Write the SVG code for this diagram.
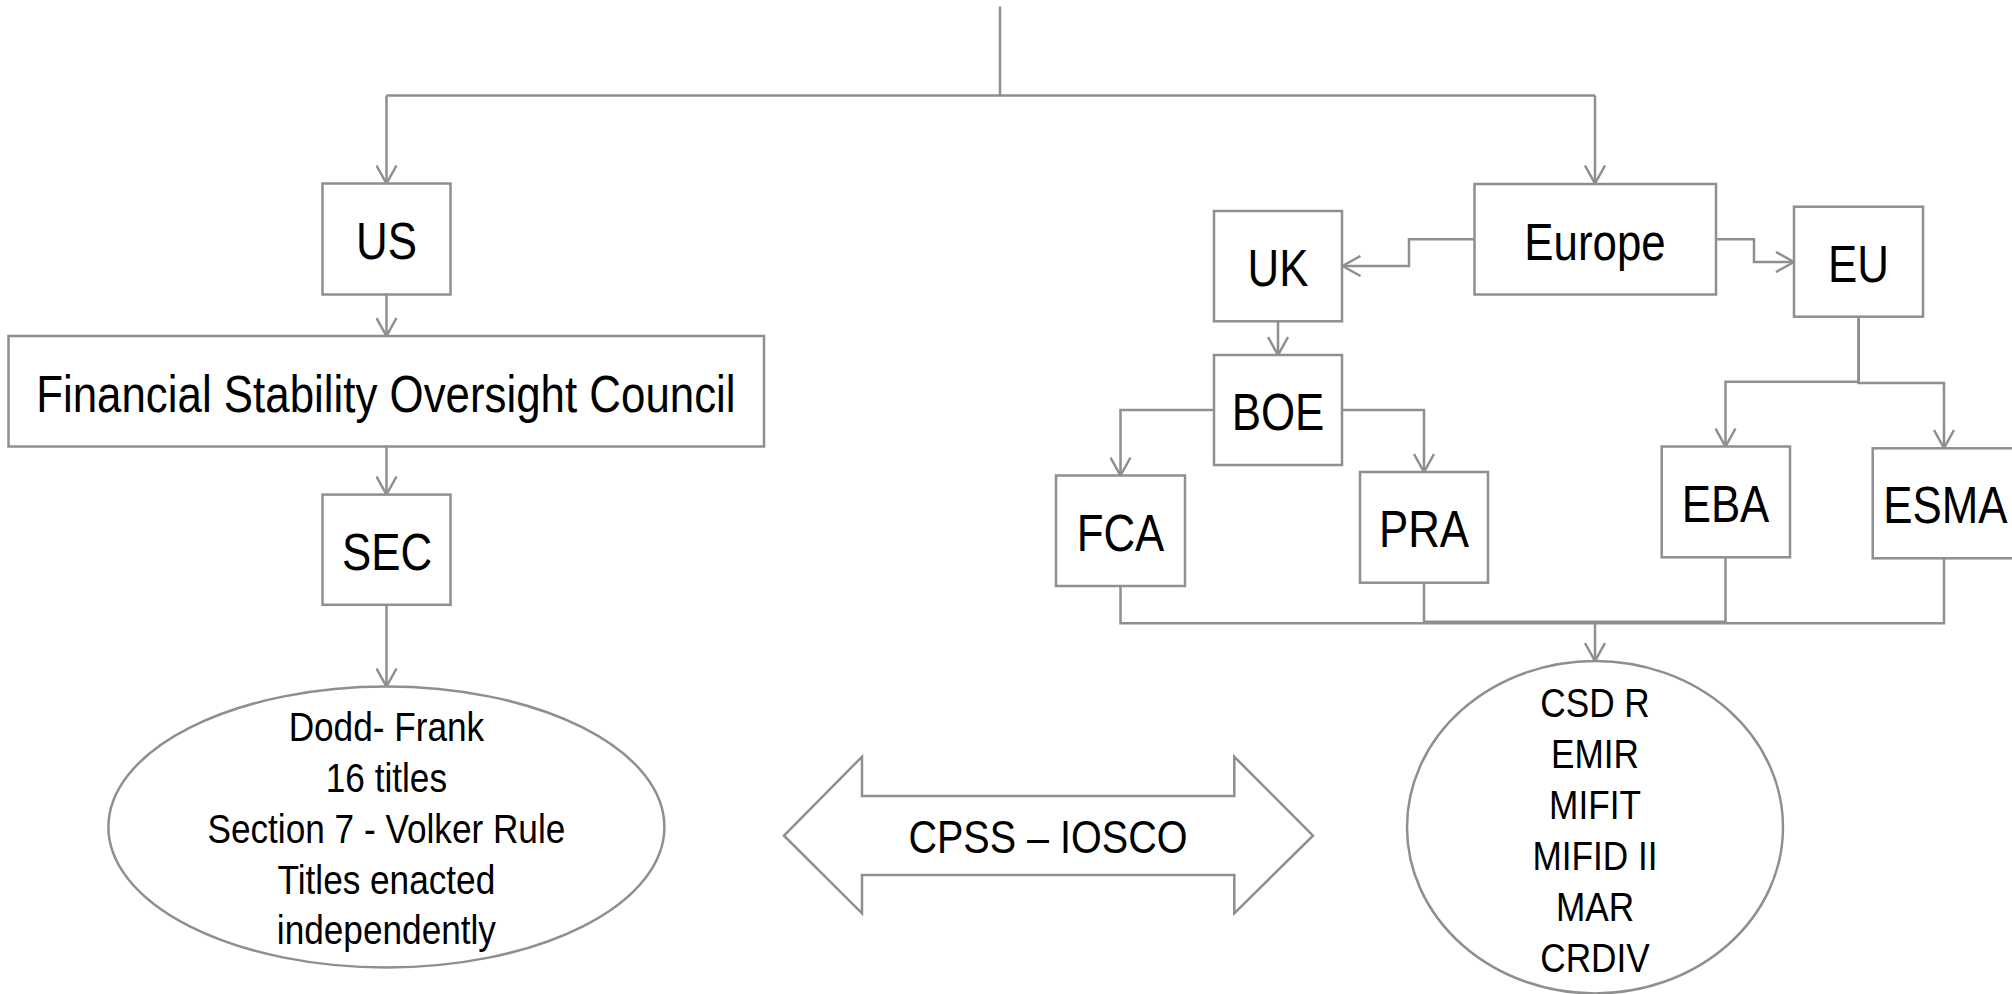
<svg xmlns="http://www.w3.org/2000/svg" width="2012" height="994" viewBox="0 0 2012 994">
<style>
.box{fill:#ffffff;stroke:#8f8f8f;stroke-width:2.5}
.ln{fill:none;stroke:#8f8f8f;stroke-width:2.5}
.arr{fill:none;stroke:#8f8f8f;stroke-width:2.5;marker-end:url(#ah)}
.t{font-family:"Liberation Sans",Arial,sans-serif;fill:#000;text-anchor:middle}
.big{font-size:51px}
.mid{font-size:46px}
.sm{font-size:40px}
</style>
<defs>
<marker id="ah" viewBox="0 0 22 22" refX="20" refY="11" markerWidth="22" markerHeight="22" markerUnits="userSpaceOnUse" orient="auto">
<path d="M2,1 L20,11 L2,21" fill="none" stroke="#8f8f8f" stroke-width="2.5"/>
</marker>
</defs>
<rect width="2012" height="994" fill="#ffffff"/>
<g id="connectors">
<path class="ln" d="M1000,6.5 V95.5"/>
<path class="ln" d="M386.5,95.5 H1595"/>
<path class="arr" d="M386.5,95.5 V183.5"/>
<path class="arr" d="M1595,95.5 V183.5"/>
<path class="arr" d="M386.5,294.5 V336"/>
<path class="arr" d="M386.5,446.5 V494.5"/>
<path class="arr" d="M386.5,604.8 V686.5"/>
<path class="arr" d="M1474.5,239.3 H1409 V266 H1342.5"/>
<path class="arr" d="M1716,239.3 H1754 V262 H1794"/>
<path class="arr" d="M1278,321 V355"/>
<path class="arr" d="M1214,410 H1120.5 V475.5"/>
<path class="arr" d="M1342,410 H1424 V472"/>
<path class="arr" d="M1858.6,317 V381.7 H1725.5 V446.5"/>
<path class="arr" d="M1858.6,317 V383 H1944 V448"/>
<path class="ln" d="M1120.5,586 V623.3 H1944 V558.7"/>
<path class="ln" d="M1424,582.7 V621.7 H1725.5 V557"/>
<path class="arr" d="M1595,621.7 V661"/>
</g>
<g id="node-us"><rect class="box" x="322.5" y="183.5" width="128" height="111"/></g>
<g id="node-fsoc"><rect class="box" x="8.5" y="336" width="755.5" height="110.5"/></g>
<g id="node-sec"><rect class="box" x="322.5" y="494.6" width="128" height="110.2"/></g>
<g id="node-doddfrank"><ellipse class="box" cx="386.4" cy="827" rx="278" ry="140.5"/></g>
<g id="node-europe"><rect class="box" x="1474.5" y="184" width="241.5" height="110.5"/></g>
<g id="node-uk"><rect class="box" x="1214" y="211" width="128" height="110.3"/></g>
<g id="node-eu"><rect class="box" x="1794" y="206.7" width="129" height="110"/></g>
<g id="node-boe"><rect class="box" x="1214" y="355" width="128" height="110"/></g>
<g id="node-fca"><rect class="box" x="1056" y="475.5" width="129" height="110.5"/></g>
<g id="node-pra"><rect class="box" x="1360" y="472" width="128" height="110.7"/></g>
<g id="node-eba"><rect class="box" x="1661.7" y="446.5" width="128.3" height="110.8"/></g>
<g id="node-esma"><rect class="box" x="1872.7" y="448.3" width="143" height="110"/></g>
<g id="node-eu-regs"><ellipse class="box" cx="1595" cy="827.2" rx="188" ry="166.2"/></g>
<g id="node-cpss"><polygon class="box" points="784,835.7 862,756.7 862,796 1234.3,796 1234.3,756.7 1313,835.7 1234.3,913.3 1234.3,875 862,875 862,913.3"/></g>
<g id="labels" transform="scale(0.86,1)">
<text class="t big" x="449.4" y="259.3">US</text>
<text class="t big" x="448.7" y="411.7">Financial Stability Oversight Council</text>
<text class="t big" x="450" y="570.3">SEC</text>
<text class="t big" x="1854.7" y="260">Europe</text>
<text class="t big" x="1486" y="286">UK</text>
<text class="t big" x="2161" y="282">EU</text>
<text class="t big" x="1486" y="430">BOE</text>
<text class="t big" x="1302.9" y="550.7">FCA</text>
<text class="t big" x="1655.8" y="547">PRA</text>
<text class="t big" x="2006.4" y="521.7">EBA</text>
<text class="t big" x="2262.2" y="523.3">ESMA</text>
<text class="t mid" x="1218.6" y="853.3">CPSS – IOSCO</text>
</g>
<g id="ellipse-labels" transform="scale(0.88,1)">
<text class="t sm" x="439.1" y="741">Dodd- Frank</text>
<text class="t sm" x="439.1" y="792">16 titles</text>
<text class="t sm" x="439.1" y="843">Section 7 - Volker Rule</text>
<text class="t sm" x="439.1" y="894">Titles enacted</text>
<text class="t sm" x="439.1" y="944">independently</text>
<text class="t sm" x="1812.5" y="717">CSD R</text>
<text class="t sm" x="1812.5" y="768">EMIR</text>
<text class="t sm" x="1812.5" y="819">MIFIT</text>
<text class="t sm" x="1812.5" y="870">MIFID II</text>
<text class="t sm" x="1812.5" y="921">MAR</text>
<text class="t sm" x="1812.5" y="972">CRDIV</text>
</g>
</svg>
